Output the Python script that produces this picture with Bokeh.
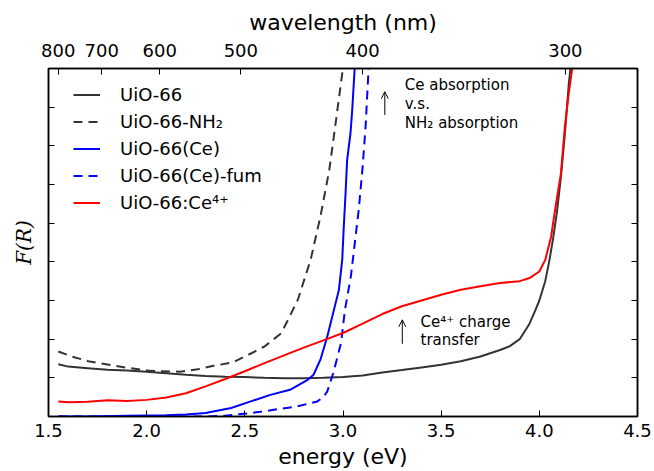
from bokeh.plotting import figure
from bokeh.models import (LinearAxis, FixedTicker, CustomJSTickFormatter, Legend, LegendItem,
                          Range1d, Arrow, OpenHead, Label)
from bokeh.embed import file_html
from bokeh.resources import INLINE

# ---------------- data ----------------
energy_ticks = [1.5, 2.0, 2.5, 3.0, 3.5, 4.0, 4.5]
wavelength_ticks = [800, 700, 600, 500, 400, 300]
y_ticks = [0, 1, 2, 3, 4, 5, 6, 7, 8, 9]

uio66_x = [1.55, 1.6, 1.7, 1.8, 1.9, 2.0, 2.1, 2.2, 2.3, 2.4, 2.5, 2.6, 2.7, 2.8, 2.9, 3.0,
           3.1, 3.2, 3.3, 3.4, 3.5, 3.6, 3.7, 3.8, 3.85, 3.9, 3.95, 3.98, 4.0, 4.03, 4.05,
           4.07, 4.09, 4.11, 4.13, 4.15, 4.165]
uio66_y = [1.35, 1.29, 1.25, 1.21, 1.19, 1.16, 1.12, 1.08, 1.05, 1.03, 1.02, 1.0, 0.99, 0.99,
           1.0, 1.02, 1.06, 1.14, 1.2, 1.27, 1.34, 1.43, 1.55, 1.72, 1.82, 2.0, 2.4, 2.75,
           3.0, 3.5, 4.0, 4.6, 5.3, 6.2, 7.3, 8.6, 9.3]

nh2_x = [1.55, 1.62, 1.71, 1.82, 1.9, 2.02, 2.17, 2.26, 2.34, 2.44, 2.5, 2.55, 2.6, 2.685,
         2.72, 2.77, 2.835, 2.885, 2.93, 2.96, 2.996, 3.01]
nh2_y = [1.68, 1.55, 1.42, 1.33, 1.26, 1.18, 1.16, 1.22, 1.31, 1.40, 1.55, 1.68, 1.81, 2.15,
         2.5, 3.02, 4.05, 5.17, 6.37, 7.49, 8.87, 9.3]

ce_x = [1.55, 1.7, 1.9, 2.1, 2.2, 2.3, 2.43, 2.53, 2.63, 2.73, 2.82, 2.85, 2.885, 2.92, 2.95,
        2.979, 2.996, 3.004, 3.013, 3.021, 3.038, 3.047, 3.059, 3.065]
ce_y = [0.0, 0.0, 0.02, 0.03, 0.05, 0.09, 0.22, 0.39, 0.56, 0.69, 0.95, 1.08, 1.47, 2.07, 2.68,
        3.27, 4.05, 4.91, 5.77, 6.63, 7.32, 7.93, 8.96, 9.3]

fum_x = [1.55, 2.3, 2.4, 2.51, 2.58, 2.68, 2.767, 2.869, 2.9, 2.92, 2.95, 2.99, 3.01, 3.04,
         3.06, 3.08, 3.10, 3.115, 3.13, 3.135]
fum_y = [0.0, 0.0, 0.02, 0.08, 0.12, 0.2, 0.26, 0.39, 0.5, 0.65, 1.12, 1.9, 2.76, 3.62, 4.48,
         5.34, 6.46, 7.49, 8.96, 9.3]

ce4_x = [1.55, 1.6, 1.7, 1.8, 1.9, 2.0, 2.1, 2.2, 2.3, 2.4, 2.5, 2.6, 2.7, 2.8, 2.9, 3.0, 3.1,
         3.2, 3.3, 3.4, 3.5, 3.6, 3.7, 3.8, 3.9, 3.95, 4.0, 4.03, 4.06, 4.08, 4.11, 4.13, 4.15,
         4.17]
ce4_y = [0.39, 0.37, 0.38, 0.42, 0.40, 0.43, 0.49, 0.6, 0.78, 0.97, 1.17, 1.38, 1.58, 1.78,
         1.97, 2.16, 2.4, 2.65, 2.85, 3.0, 3.15, 3.28, 3.37, 3.45, 3.5, 3.58, 3.75, 4.05, 4.65,
         5.34, 6.29, 7.49, 8.36, 9.1]

labels = ["UiO-66", "UiO-66-NH\u2082", "UiO-66(Ce)", "UiO-66(Ce)-fum", "UiO-66:Ce\u2074\u207a"]

FONT = "DejaVu Sans"
DARK = "#333333"

p = figure(width=654, height=471, x_range=Range1d(1.5, 4.5), y_range=Range1d(0, 9),
           output_backend="svg", toolbar_location=None,
           x_axis_location=None, y_axis_location=None,
           min_border_left=48, min_border_right=17, min_border_top=68, min_border_bottom=54)
p.xgrid.visible = False
p.ygrid.visible = False
p.outline_line_color = "black"
p.outline_line_width = 1.5
p.background_fill_color = "white"
p.border_fill_color = "white"


def style_axis(ax, tick_font="18px"):
    ax.axis_line_color = "black"
    ax.axis_line_width = 1.5
    ax.major_tick_in = 6
    ax.major_tick_out = 0
    ax.minor_tick_line_color = None
    ax.major_tick_line_color = "black"
    ax.major_tick_line_width = 1
    ax.major_label_text_font = FONT
    ax.major_label_text_font_size = tick_font
    ax.major_label_text_color = "black"
    ax.axis_label_text_font = FONT
    ax.axis_label_text_font_style = "normal"
    ax.axis_label_text_color = "black"
    ax.axis_label_text_font_size = "22px"


bottom = LinearAxis(ticker=FixedTicker(ticks=energy_ticks),
                    formatter=CustomJSTickFormatter(code="return tick.toFixed(1)"),
                    axis_label="energy (eV)")
style_axis(bottom)
bottom.major_label_standoff = 7
bottom.axis_label_standoff = 4
p.add_layout(bottom, "below")

top = LinearAxis(ticker=FixedTicker(ticks=[1239.84 / w for w in wavelength_ticks]),
                 formatter=CustomJSTickFormatter(code="return (1239.84 / tick).toFixed(0)"),
                 axis_label="wavelength (nm)")
style_axis(top)
top.major_label_standoff = 12
top.axis_label_standoff = 6
p.add_layout(top, "above")

blank = CustomJSTickFormatter(code="return ''")

left = LinearAxis(ticker=FixedTicker(ticks=y_ticks), formatter=blank, axis_label="F(R)")
style_axis(left)
left.major_label_text_color = None
left.major_label_standoff = 0
left.axis_label_standoff = 13
left.axis_label_text_font = "DejaVu Serif"
left.axis_label_text_font_style = "italic"
left.axis_label_text_font_size = "20px"
p.add_layout(left, "left")

right = LinearAxis(ticker=FixedTicker(ticks=y_ticks), formatter=blank)
style_axis(right)
right.major_label_text_color = None
right.major_label_standoff = 0
p.add_layout(right, "right")

r1 = p.line(uio66_x, uio66_y, line_color=DARK, line_width=2)
r2 = p.line(nh2_x, nh2_y, line_color=DARK, line_width=2, line_dash="9 6")
r3 = p.line(ce_x, ce_y, line_color="#0000ff", line_width=2)
r4 = p.line(fum_x, fum_y, line_color="#0000ff", line_width=2, line_dash="9 6")
r5 = p.line(ce4_x, ce4_y, line_color="#ff0000", line_width=2)

legend = Legend(items=[LegendItem(label=lab, renderers=[r])
                       for lab, r in zip(labels, [r1, r2, r3, r4, r5])],
                location=(25, 203), padding=0, margin=0, spacing=6,
                glyph_width=27, glyph_height=21, label_height=21, label_standoff=20,
                label_text_font=FONT, label_text_font_size="18px", label_text_color="black",
                border_line_alpha=0, background_fill_alpha=0)
p.add_layout(legend)

# annotations
ann_font = "15px"
for txt, yy in [("Ce absorption", 8.57), ("v.s.", 8.07), ("NH\u2082 absorption", 7.58)]:
    p.add_layout(Label(x=3.315, y=yy, text=txt, text_font=FONT, text_font_size=ann_font,
                       text_baseline="middle", text_align="left", text_color="black"))
for txt, yy in [("Ce\u2074\u207a charge", 2.45), ("transfer", 1.99)]:
    p.add_layout(Label(x=3.395, y=yy, text=txt, text_font=FONT, text_font_size=ann_font,
                       text_baseline="middle", text_align="left", text_color="black"))

p.add_layout(Arrow(end=OpenHead(size=7, line_width=1, line_color="black"),
                   x_start=3.213, y_start=7.8, x_end=3.213, y_end=8.4,
                   line_width=1, line_color="black"))
p.add_layout(Arrow(end=OpenHead(size=7, line_width=1, line_color="black"),
                   x_start=3.302, y_start=1.88, x_end=3.302, y_end=2.5,
                   line_width=1, line_color="black"))

open("out.html", "w").write(file_html(p, INLINE))
